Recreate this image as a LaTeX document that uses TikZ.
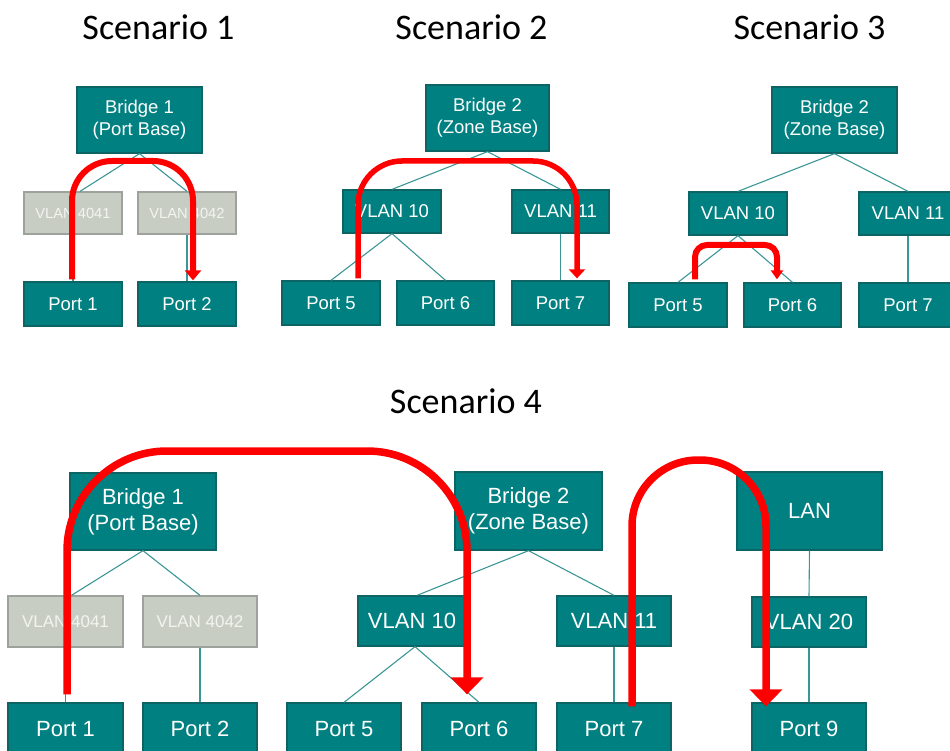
\documentclass[tikz,border=0pt]{standalone}
\usepackage{fontspec}
\setmainfont{Liberation Sans}
\newfontfamily\titlefont{Carlito}
\usetikzlibrary{arrows.meta,calc}
\definecolor{tealfill}{RGB}{0,128,128}
\definecolor{tealedge}{RGB}{12,100,100}
\definecolor{teallink}{RGB}{60,150,150}
\definecolor{grayfill}{RGB}{200,205,196}
\definecolor{grayedge}{RGB}{158,162,156}
\definecolor{graytext}{RGB}{242,244,240}
\definecolor{routered}{RGB}{255,0,0}
\tikzset{
  box/.style={rectangle, inner sep=0pt, draw=tealedge, line width=1.3pt, fill=tealfill, text=white, align=center},
  gbox/.style={rectangle, inner sep=0pt, draw=grayedge, line width=1.3pt, fill=grayfill, text=graytext, align=center},
  small/.style={font=\fontsize{18.5}{22}\selectfont},
  gsmall/.style={font=\fontsize{14.7}{18}\selectfont},
  big/.style={font=\fontsize{22}{26}\selectfont},
  gbig/.style={font=\fontsize{17}{20}\selectfont},
  link/.style={draw=teallink, line width=1.1pt},
  title/.style={anchor=base, inner sep=0pt, font=\titlefont\fontsize{36}{40}\selectfont},
  route/.style={draw=routered, line width=#1},
}
\begin{document}
\begin{tikzpicture}[x=1pt,y=-1pt]
\useasboundingbox (0,0) rectangle (950,751);
% titles
\node[title] (t1) at (158.5,40) {Scenario 1};
\node[title] (t2) at (471.5,40) {Scenario 2};
\node[title] (t3) at (809.5,40) {Scenario 3};
\node[title] (t4) at (466,413) {Scenario 4};

% ---------- Scenario 1 ----------
\node[box,small,minimum width=125pt,minimum height=66pt] (s1b) at (139.5,120) {Bridge 1\\(Port Base)};
\node[gbox,gsmall,minimum width=98pt,minimum height=42pt] (s1v1) at (73,213) {VLAN 4041};
\node[gbox,gsmall,minimum width=98pt,minimum height=42pt] (s1v2) at (187,213) {VLAN 4042};
\node[box,small,minimum width=98pt,minimum height=44pt] (s1p1) at (73,304) {Port 1};
\node[box,small,minimum width=98pt,minimum height=44pt] (s1p2) at (187,304) {Port 2};
\draw[link] (s1b.south) -- ($(s1v1.north)+(7,0)$);
\draw[link] (s1b.south) -- (s1v2.north);
\draw[link] (s1v1.south) -- (s1p1.north);
\draw[link] (s1v2.south) -- (s1p2.north);

% ---------- Scenario 2 ----------
\node[box,small,minimum width=123pt,minimum height=66pt] (s2b) at (487.5,118) {Bridge 2\\(Zone Base)};
\node[box,small,minimum width=98pt,minimum height=43pt] (s2v1) at (392,211.5) {VLAN 10};
\node[box,small,minimum width=97pt,minimum height=43pt] (s2v2) at (560.5,211.5) {VLAN 11};
\node[box,small,minimum width=98pt,minimum height=44pt] (s2p5) at (331,303) {Port 5};
\node[box,small,minimum width=97pt,minimum height=44pt] (s2p6) at (445.5,303) {Port 6};
\node[box,small,minimum width=97pt,minimum height=44pt] (s2p7) at (560.5,303) {Port 7};
\draw[link] (s2b.south) -- (s2v1.north);
\draw[link] (s2b.south) -- (s2v2.north);
\draw[link] (s2v1.south) -- (s2p5.north);
\draw[link] (s2v1.south) -- (s2p6.north);
\draw[link] (s2v2.south) -- (s2p7.north);

% ---------- Scenario 3 ----------
\node[box,small,minimum width=125pt,minimum height=66pt] (s3b) at (834.5,120) {Bridge 2\\(Zone Base)};
\node[box,small,minimum width=98pt,minimum height=43pt] (s3v1) at (738,213.5) {VLAN 10};
\node[box,small,minimum width=98pt,minimum height=43pt] (s3v2) at (908,213.5) {VLAN 11};
\node[box,small,minimum width=98pt,minimum height=44pt] (s3p5) at (678,305) {Port 5};
\node[box,small,minimum width=97pt,minimum height=44pt] (s3p6) at (792.5,305) {Port 6};
\node[box,small,minimum width=98pt,minimum height=44pt] (s3p7) at (908,305) {Port 7};
\draw[link] (s3b.south) -- (s3v1.north);
\draw[link] (s3b.south) -- (s3v2.north);
\draw[link] (s3v1.south) -- (s3p5.north);
\draw[link] (s3v1.south) -- (s3p6.north);
\draw[link] (s3v2.south) -- (s3p7.north);

% ---------- Scenario 4 ----------
\node[box,big,minimum width=146pt,minimum height=77pt] (s4b1) at (143,511.5) {Bridge 1\\(Port Base)};
\node[gbox,gbig,minimum width=115pt,minimum height=51pt] (s4v1) at (65.5,621.5) {VLAN 4041};
\node[gbox,gbig,minimum width=114pt,minimum height=51pt] (s4v2) at (200,621.5) {VLAN 4042};
\node[box,big,minimum width=115pt,minimum height=52pt] (s4p1) at (65.5,729) {Port 1};
\node[box,big,minimum width=114pt,minimum height=52pt] (s4p2) at (200,729) {Port 2};
\node[box,big,minimum width=147pt,minimum height=78pt] (s4b2) at (528.5,511) {Bridge 2\\(Zone Base)};
\node[box,big,minimum width=108pt,minimum height=50pt] (s4v3) at (412,621) {VLAN 10};
\node[box,big,minimum width=114pt,minimum height=50pt] (s4v4) at (614,621) {VLAN 11};
\node[box,big,minimum width=114pt,minimum height=52pt] (s4p5) at (344,729) {Port 5};
\node[box,big,minimum width=114pt,minimum height=52pt] (s4p6) at (479,729) {Port 6};
\node[box,big,minimum width=114pt,minimum height=52pt] (s4p7) at (614,729) {Port 7};
\node[box,big,minimum width=145pt,minimum height=78pt] (s4lan) at (809.5,511) {LAN};
\node[box,big,minimum width=114pt,minimum height=50pt] (s4v5) at (809,622) {VLAN 20};
\node[box,big,minimum width=114pt,minimum height=52pt] (s4p9) at (809,729) {Port 9};
\draw[link] (s4b1.south) -- ($(s4v1.north)+(6,0)$);
\draw[link] (s4b1.south) -- (s4v2.north);
\draw[link] (s4v1.south) -- (s4p1.north);
\draw[link] (s4v2.south) -- (s4p2.north);
\draw[link] (s4b2.south) -- ($(s4v3.north)+(5,0)$);
\draw[link] (s4b2.south) -- (s4v4.north);
\draw[link] ($(s4v3.south)+(3,0)$) -- (s4p5.north);
\draw[link] ($(s4v3.south)+(3,0)$) -- (s4p6.north);
\draw[link] (s4v4.south) -- (s4p7.north);
\draw[link] (s4lan.south) -- (s4v5.north);
\draw[link] (s4v5.south) -- (s4p9.north);

% ---------- red routes ----------
% Scenario 1
\coordinate (a1) at ($(s1p1.north)+(-1,-2)$);
\coordinate (b1) at ($(s1p2.north)+(6,-1)$);
\coordinate (h1) at (0,161);
\draw[route=6pt, rounded corners=40pt, -{Triangle[width=16pt,length=10pt]}]
  (a1) -- (a1 |- h1) -- (b1 |- h1) -- (b1);
% Scenario 2
\coordinate (a2) at ($(s2p5.north)+(27,-2)$);
\coordinate (b2) at ($(s2p7.north)+(16.5,-2)$);
\coordinate (h2) at (0,161);
\draw[route=5.5pt, rounded corners=44pt, -{Triangle[width=16pt,length=9pt]}]
  (a2) -- (a2 |- h2) -- (b2 |- h2) -- (b2);
% Scenario 3
\coordinate (a3) at ($(s3p5.north)+(17,-3)$);
\coordinate (b3) at ($(s3p6.north)+(-15.5,-3)$);
\coordinate (h3) at (0,245);
\draw[route=6pt, rounded corners=12pt, -{Triangle[width=12pt,length=9pt]}]
  (a3) -- (a3 |- h3) -- (b3 |- h3) -- (b3);
% Scenario 4: Port 1 -> Port 6
\coordinate (a4) at ($(s4p1.north)+(1.5,-8)$);
\coordinate (b4) at ($(s4p6.north)+(-12,-8)$);
\coordinate (h4) at (0,451);
\draw[route=7.5pt, rounded corners=100pt, -{Triangle[width=32pt,length=17pt]}]
  (a4) -- (a4 |- h4) -- (b4 |- h4) -- (b4);
% Scenario 4: Port 7 -> Port 9
\coordinate (a5) at ($(s4p7.north)+(18,4)$);
\coordinate (b5) at ($(s4p9.north)+(-43,4)$);
\coordinate (h5) at (0,460);
\draw[route=7.5pt, rounded corners=66pt, -{Triangle[width=32pt,length=17pt]}]
  (a5) -- (a5 |- h5) -- (b5 |- h5) -- (b5);
\end{tikzpicture}
\end{document}
